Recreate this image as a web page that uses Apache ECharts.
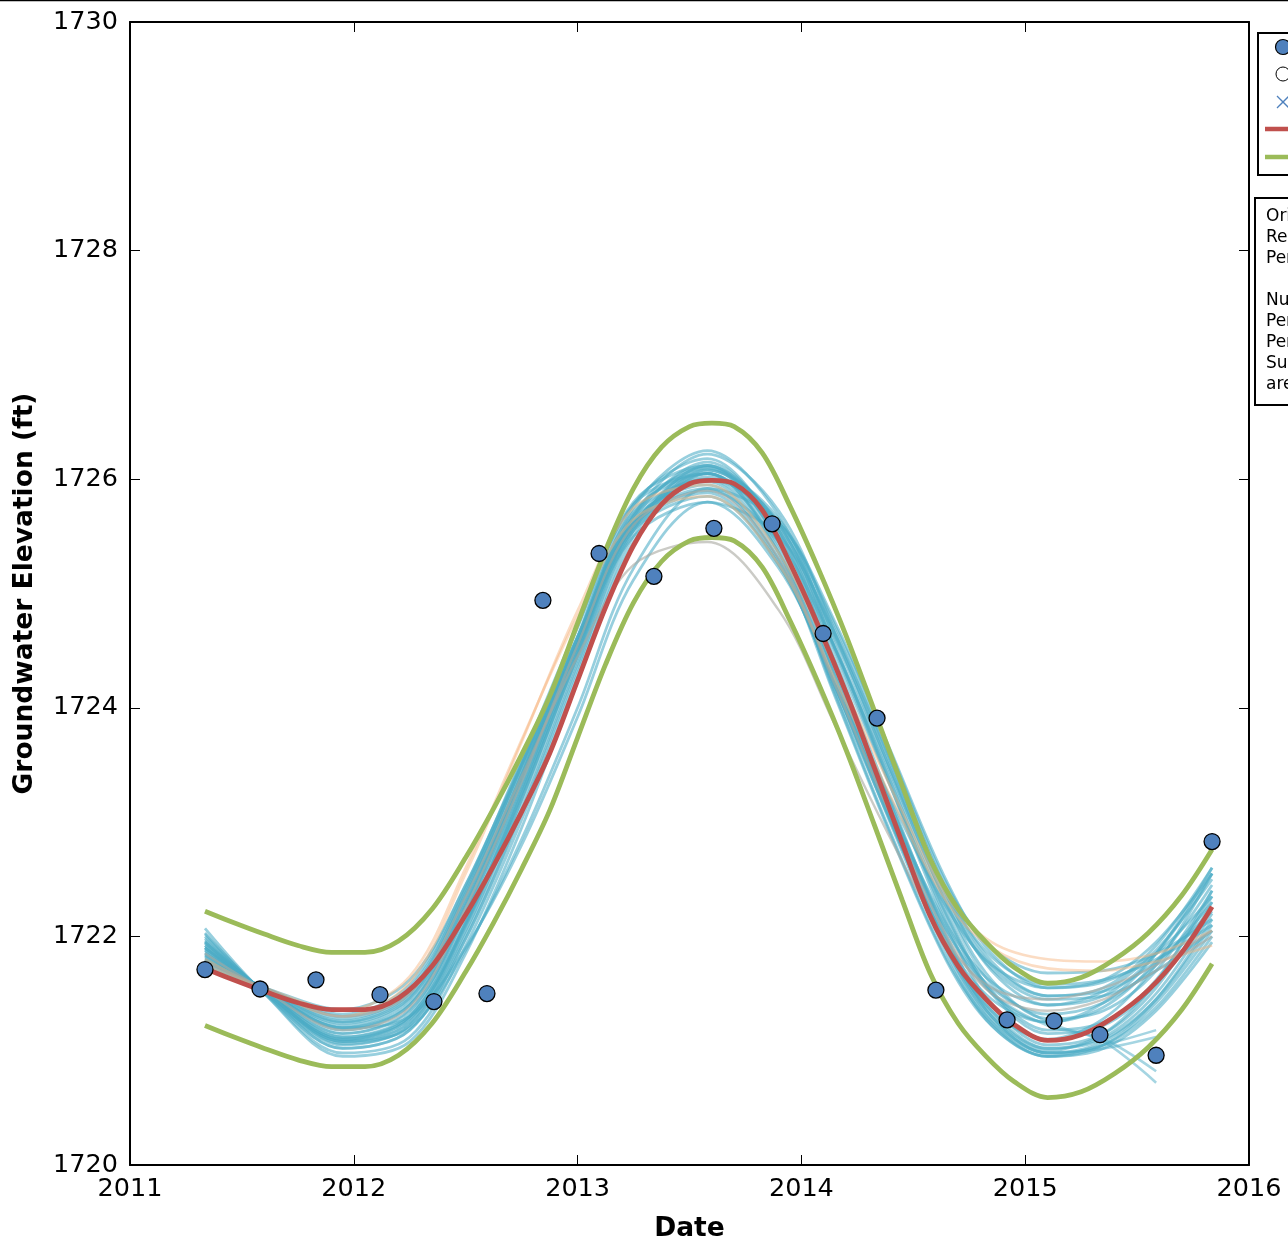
<!DOCTYPE html>
<html><head><meta charset="utf-8">
<script src="https://cdn.jsdelivr.net/npm/echarts@6/dist/echarts.min.js"></script>
<style>html,body{margin:0;padding:0;background:#fff;overflow:hidden;}#c{width:1288px;height:1239px;}</style>
</head><body><div id="c"></div>
<script>
// ---- data ----
const obsDates = [2011.335, 2011.581, 2011.831, 2012.117, 2012.358, 2012.595, 2012.845, 2013.096, 2013.341, 2013.609, 2013.869, 2014.097, 2014.338, 2014.601, 2014.919, 2015.129, 2015.334, 2015.585, 2015.835];
const obsValues = [1721.71, 1721.54, 1721.62, 1721.49, 1721.43, 1721.50, 1724.94, 1725.35, 1725.15, 1725.57, 1725.61, 1724.65, 1723.91, 1721.53, 1721.27, 1721.26, 1721.14, 1720.96, 1722.83];

// best fit and bounds, read on a fine date grid
const mainDates = [2011.335, 2011.45, 2011.6, 2011.75, 2011.9, 2012.05, 2012.2, 2012.35, 2012.5, 2012.625, 2012.75, 2012.875, 2013.0, 2013.125, 2013.25, 2013.375, 2013.5, 2013.6, 2013.7, 2013.825, 2013.95, 2014.075, 2014.2, 2014.325, 2014.45, 2014.575, 2014.7, 2014.825, 2014.95, 2015.1, 2015.25, 2015.4, 2015.55, 2015.7, 2015.835];
const bestFit = [1721.72, 1721.63, 1721.52, 1721.42, 1721.36, 1721.36, 1721.46, 1721.74, 1722.19, 1722.62, 1723.09, 1723.60, 1724.24, 1724.88, 1725.42, 1725.78, 1725.96, 1725.99, 1725.96, 1725.73, 1725.26, 1724.72, 1724.13, 1723.48, 1722.82, 1722.18, 1721.74, 1721.45, 1721.23, 1721.09, 1721.14, 1721.30, 1721.53, 1721.86, 1722.26];
const upperBound = [1722.22, 1722.13, 1722.02, 1721.92, 1721.86, 1721.86, 1721.96, 1722.24, 1722.69, 1723.12, 1723.59, 1724.10, 1724.74, 1725.38, 1725.92, 1726.28, 1726.46, 1726.49, 1726.46, 1726.23, 1725.76, 1725.22, 1724.63, 1723.98, 1723.32, 1722.68, 1722.24, 1721.95, 1721.73, 1721.59, 1721.64, 1721.80, 1722.03, 1722.36, 1722.76];
const lowerBound = [1721.22, 1721.13, 1721.02, 1720.92, 1720.86, 1720.86, 1720.96, 1721.24, 1721.69, 1722.12, 1722.59, 1723.10, 1723.74, 1724.38, 1724.92, 1725.28, 1725.46, 1725.49, 1725.46, 1725.23, 1724.76, 1724.22, 1723.63, 1722.98, 1722.32, 1721.68, 1721.24, 1720.95, 1720.73, 1720.59, 1720.64, 1720.80, 1721.03, 1721.36, 1721.76];

// bootstrap fits, read on a coarser date grid
const fitDates = [2011.335, 2011.6, 2011.95, 2012.25, 2012.5, 2012.75, 2013.0, 2013.25, 2013.58, 2013.9, 2014.15, 2014.4, 2014.65, 2014.85, 2015.1, 2015.35, 2015.585, 2015.835];
const blueFits = [
  [1722.07, 1721.50, 1720.95, 1721.08, 1721.85, 1722.95, 1724.25, 1725.45, 1726.05, 1725.55, 1724.50, 1723.30, 1722.10, 1721.40, 1721.05, 1721.15, 1721.55, 1722.30],
  [1722.00, 1721.51, 1721.02, 1721.18, 1721.98, 1723.08, 1724.35, 1725.55, 1726.12, 1725.60, 1724.52, 1723.35, 1722.20, 1721.52, 1721.18, 1721.25, 1721.62, 1722.35],
  [1721.95, 1721.52, 1721.08, 1721.25, 1722.10, 1723.25, 1724.50, 1725.65, 1726.15, 1725.55, 1724.40, 1723.18, 1722.00, 1721.35, 1721.02, 1721.12, 1721.50, 1722.20],
  [1721.90, 1721.53, 1721.12, 1721.32, 1722.20, 1723.35, 1724.58, 1725.70, 1726.10, 1725.45, 1724.28, 1723.05, 1721.92, 1721.30, 1721.00, 1721.15, 1721.60, 1722.40],
  [1721.85, 1721.54, 1721.18, 1721.40, 1722.30, 1723.42, 1724.62, 1725.72, 1726.05, 1725.38, 1724.20, 1723.00, 1721.90, 1721.35, 1721.10, 1721.28, 1721.75, 1722.55],
  [1721.80, 1721.55, 1721.25, 1721.48, 1722.35, 1723.45, 1724.60, 1725.65, 1725.95, 1725.30, 1724.15, 1723.00, 1721.95, 1721.45, 1721.25, 1721.42, 1721.85, 1722.60],
  [1721.76, 1721.55, 1721.30, 1721.55, 1722.40, 1723.48, 1724.58, 1725.58, 1725.88, 1725.25, 1724.18, 1723.10, 1722.10, 1721.60, 1721.40, 1721.52, 1721.88, 1722.50],
  [1721.73, 1721.55, 1721.36, 1721.62, 1722.45, 1723.50, 1724.55, 1725.50, 1725.80, 1725.22, 1724.22, 1723.20, 1722.25, 1721.75, 1721.55, 1721.60, 1721.85, 1722.35],
  [1721.98, 1721.51, 1721.05, 1721.22, 1722.05, 1723.20, 1724.48, 1725.68, 1726.22, 1725.72, 1724.65, 1723.45, 1722.28, 1721.62, 1721.28, 1721.35, 1721.70, 1722.40],
  [1721.92, 1721.52, 1721.10, 1721.28, 1722.12, 1723.28, 1724.55, 1725.75, 1726.25, 1725.68, 1724.55, 1723.32, 1722.15, 1721.50, 1721.15, 1721.22, 1721.58, 1722.25],
  [1721.88, 1721.53, 1721.15, 1721.35, 1722.22, 1723.38, 1724.62, 1725.78, 1726.18, 1725.52, 1724.35, 1723.10, 1721.95, 1721.32, 1721.02, 1721.10, 1721.45, 1722.10],
  [1721.83, 1721.54, 1721.22, 1721.45, 1722.35, 1723.50, 1724.70, 1725.80, 1726.12, 1725.45, 1724.25, 1723.02, 1721.88, 1721.28, 1720.98, 1721.05, 1721.38, 1722.00],
  [1721.78, 1721.55, 1721.28, 1721.52, 1722.42, 1723.55, 1724.72, 1725.78, 1726.05, 1725.35, 1724.12, 1722.90, 1721.80, 1721.25, 1720.98, 1721.08, 1721.45, 1722.15],
  [1722.03, 1721.50, 1720.98, 1721.12, 1721.92, 1723.02, 1724.30, 1725.50, 1726.08, 1725.62, 1724.60, 1723.45, 1722.35, 1721.70, 1721.40, 1721.48, 1721.85, 1722.55],
  [1721.86, 1721.54, 1721.20, 1721.42, 1722.28, 1723.40, 1724.60, 1725.68, 1726.00, 1725.42, 1724.32, 1723.15, 1722.05, 1721.50, 1721.25, 1721.38, 1721.78, 1722.45],
  [1721.94, 1721.52, 1721.10, 1721.30, 1722.15, 1723.30, 1724.52, 1725.62, 1725.98, 1725.35, 1724.20, 1722.98, 1721.85, 1721.22, 1720.95, 1721.05, 1721.42, 1722.05],
  [1721.82, 1721.54, 1721.24, 1721.46, 1722.30, 1723.42, 1724.55, 1725.55, 1725.85, 1725.25, 1724.18, 1723.08, 1722.05, 1721.55, 1721.32, 1721.42, 1721.75, 1722.30],
  [1721.80, 1721.53, 1721.20, 1721.30, 1721.90, 1722.80, 1723.92, 1725.12, 1725.80, 1725.50, 1724.65, 1723.55, 1722.40, 1721.78, 1721.48, 1721.55, 1721.92, 1722.60],
  [1721.90, 1721.52, 1721.08, 1721.20, 1721.88, 1722.85, 1724.00, 1725.22, 1725.92, 1725.62, 1724.75, 1723.62, 1722.48, 1721.85, 1721.55, 1721.62, 1721.95, 1722.55],
  [1721.75, 1721.55, 1721.32, 1721.58, 1722.45, 1723.52, 1724.62, 1725.62, 1725.92, 1725.28, 1724.10, 1722.88, 1721.78, 1721.22, 1720.95, 1721.02, 1721.35, 1721.95],
  [1721.84, 1721.54, 1721.20, 1721.40, 1722.25, 1723.38, 1724.55, 1725.62, 1726.00, 1725.62, 1724.72, 1723.60, 1722.45, 1721.90, 1721.68, 1721.70, 1721.85, 1722.15],
  [1721.90, 1721.53, 1721.12, 1721.30, 1722.12, 1723.25, 1724.48, 1725.60, 1726.02, 1725.58, 1724.62, 1723.50, 1722.38, 1721.82, 1721.58, 1721.62, 1721.80, 1722.10],
  [1721.96, 1721.52, 1721.06, 1721.22, 1722.02, 1723.15, 1724.42, 1725.58, 1726.08, 1725.65, 1724.68, 1723.52, 1722.35, 1721.75, 1721.48, 1721.52, 1721.78, 1722.22],
  [1721.79, 1721.55, 1721.26, 1721.50, 1722.38, 1723.50, 1724.62, 1725.60, 1725.90, 1725.45, 1724.52, 1723.42, 1722.30, 1721.72, 1721.45, 1721.48, 1721.70, 1722.05]
];
const shortFits = [
  [1721.95, 1721.52, 1721.10, 1721.28, 1722.10, 1723.22, 1724.45, 1725.60, 1726.10, 1725.60, 1724.52, 1723.38, 1722.25, 1721.58, 1721.25, 1721.08, 1720.72],
  [1721.88, 1721.53, 1721.15, 1721.36, 1722.20, 1723.32, 1724.55, 1725.68, 1726.12, 1725.55, 1724.45, 1723.30, 1722.18, 1721.52, 1721.22, 1721.10, 1720.82],
  [1722.02, 1721.51, 1721.02, 1721.18, 1721.98, 1723.10, 1724.38, 1725.55, 1726.05, 1725.50, 1724.35, 1723.15, 1721.98, 1721.30, 1720.98, 1721.02, 1721.12],
  [1721.92, 1721.52, 1721.08, 1721.25, 1722.08, 1723.20, 1724.45, 1725.60, 1726.05, 1725.45, 1724.28, 1723.05, 1721.90, 1721.25, 1720.95, 1721.05, 1721.18]
];
const orangeFits = [
  [1721.80, 1721.54, 1721.30, 1721.60, 1722.55, 1723.70, 1724.85, 1725.75, 1725.95, 1725.35, 1724.35, 1723.30, 1722.35, 1721.95, 1721.80, 1721.78, 1721.85, 1722.05],
  [1721.75, 1721.55, 1721.35, 1721.65, 1722.60, 1723.72, 1724.80, 1725.65, 1725.85, 1725.25, 1724.25, 1723.22, 1722.30, 1721.90, 1721.72, 1721.70, 1721.78, 1721.92]
];
const greyFits = [
  [1721.78, 1721.55, 1721.30, 1721.50, 1722.35, 1723.40, 1724.45, 1725.25, 1725.45, 1724.85, 1723.85, 1722.85, 1721.95, 1721.55, 1721.45, 1721.55, 1721.75, 1722.05],
  [1721.85, 1721.53, 1721.18, 1721.38, 1722.25, 1723.35, 1724.55, 1725.60, 1725.90, 1725.30, 1724.20, 1723.05, 1722.00, 1721.50, 1721.35, 1721.45, 1721.70, 1722.00]
];
const xTicks = [2011, 2016, 1];
const yTicks = [1720, 1730, 2];
const legendLabels = ['Observations', 'Excluded observations', 'Outliers', 'Best fit', 'Confidence bounds'];
const infoLines = ['Original record: 2011-2016', 'Regression: sinusoidal fit', 'Period: 3.2 yr', '', 'Number of observations: 19', 'Period min: 2.5 yr', 'Period max: 4.0 yr', 'Summary: fits shown', 'are bootstrap samples'];

// ---- build ----
const pair = (xs, ys) => ys.map((y, i) => [xs[i], y]);
const FONT = 'DejaVu Sans';
const series = [];
function lineSeries(xs, vals, color, width, opacity, z) {
  series.push({ type: 'line', data: pair(xs, vals), smooth: 0.33, symbol: 'none', silent: true, z: z,
    lineStyle: { color: color, width: width, opacity: opacity } });
}
blueFits.forEach(v => lineSeries(fitDates, v, '#4bacc6', 2.8, 0.58, 2));
shortFits.forEach(v => lineSeries(fitDates, v, '#4bacc6', 2.6, 0.5, 2));
orangeFits.forEach(v => lineSeries(fitDates, v, '#f7b27a', 2.6, 0.45, 2));
greyFits.forEach(v => lineSeries(fitDates, v, '#a8a8a0', 2.4, 0.6, 2));
lineSeries(mainDates, bestFit, '#c0504d', 4.8, 1, 5);
lineSeries(mainDates, upperBound, '#9bbb59', 4.8, 1, 5);
lineSeries(mainDates, lowerBound, '#9bbb59', 4.8, 1, 5);
series.push({ type: 'scatter', data: pair(obsDates, obsValues), symbol: 'circle', symbolSize: 16, z: 10,
  itemStyle: { color: '#4f81bd', borderColor: '#000', borderWidth: 1.3, opacity: 1 } });

const axisCommon = { axisLine: { lineStyle: { color: '#000', width: 2 } }, splitLine: { show: false },
  axisTick: { inside: true, length: 10, lineStyle: { color: '#000', width: 1 } } };
const plain = v => String(v);

const chart = echarts.init(document.getElementById('c'), null, { renderer: 'canvas' });
chart.setOption({
  animation: false,
  backgroundColor: '#fff',
  grid: { left: 130, top: 22, right: 39, bottom: 74, containLabel: false, outerBoundsMode: 'none' },
  xAxis: [
    Object.assign({ type: 'value', min: xTicks[0], max: xTicks[1], interval: xTicks[2], position: 'bottom',
      name: 'Date', nameLocation: 'middle', nameGap: 51,
      nameTextStyle: { fontFamily: FONT, fontSize: 26.5, fontWeight: 'bold', color: '#000' },
      axisLabel: { fontFamily: FONT, fontSize: 25.5, color: '#000', margin: 11, formatter: plain } }, axisCommon),
    Object.assign({ type: 'value', min: xTicks[0], max: xTicks[1], interval: xTicks[2], position: 'top',
      axisLabel: { show: false } }, axisCommon)
  ],
  yAxis: [
    Object.assign({ type: 'value', min: yTicks[0], max: yTicks[1], interval: yTicks[2], position: 'left',
      name: 'Groundwater Elevation (ft)', nameLocation: 'middle', nameGap: 91,
      nameTextStyle: { fontFamily: FONT, fontSize: 26.5, fontWeight: 'bold', color: '#000' },
      axisLabel: { fontFamily: FONT, fontSize: 25.5, color: '#000', margin: 12, formatter: plain } }, axisCommon),
    Object.assign({ type: 'value', min: yTicks[0], max: yTicks[1], interval: yTicks[2], position: 'right',
      axisLabel: { show: false } }, axisCommon)
  ],
  series: series,
  graphic: [
    { type: 'line', shape: { x1: 0, y1: 0.5, x2: 1288, y2: 0.5 }, style: { stroke: '#000', lineWidth: 1.5 } },
    { type: 'rect', shape: { x: 1258, y: 33, width: 300, height: 142 }, style: { fill: '#fff', stroke: '#000', lineWidth: 2 }, z: 20 },
    { type: 'circle', shape: { cx: 1283, cy: 47, r: 7.5 }, style: { fill: '#4f81bd', stroke: '#000', lineWidth: 1.2 }, z: 21 },
    { type: 'circle', shape: { cx: 1283, cy: 74, r: 7 }, style: { fill: 'none', stroke: '#000', lineWidth: 1 }, z: 21 },
    { type: 'line', shape: { x1: 1277, y1: 96, x2: 1289, y2: 108 }, style: { stroke: '#4f81bd', lineWidth: 1.3 }, z: 21 },
    { type: 'line', shape: { x1: 1277, y1: 108, x2: 1289, y2: 96 }, style: { stroke: '#4f81bd', lineWidth: 1.3 }, z: 21 },
    { type: 'line', shape: { x1: 1265, y1: 129, x2: 1310, y2: 129 }, style: { stroke: '#c0504d', lineWidth: 4.5 }, z: 21 },
    { type: 'line', shape: { x1: 1265, y1: 157, x2: 1310, y2: 157 }, style: { stroke: '#9bbb59', lineWidth: 4.5 }, z: 21 },
    ...legendLabels.map((t, i) => ({ type: 'text', x: 1305, y: 47 + i * 27.5, z: 21,
      style: { text: t, fontFamily: FONT, fontSize: 18, fill: '#000', textVerticalAlign: 'middle' } })),
    { type: 'rect', shape: { x: 1255, y: 198, width: 300, height: 207 }, style: { fill: '#fff', stroke: '#000', lineWidth: 2 }, z: 20 },
    ...infoLines.map((t, i) => ({ type: 'text', x: 1266, y: 217 + i * 21, z: 21,
      style: { text: t, fontFamily: FONT, fontSize: 17, fill: '#000', textVerticalAlign: 'middle' } }))
  ]
});
</script></body></html>
